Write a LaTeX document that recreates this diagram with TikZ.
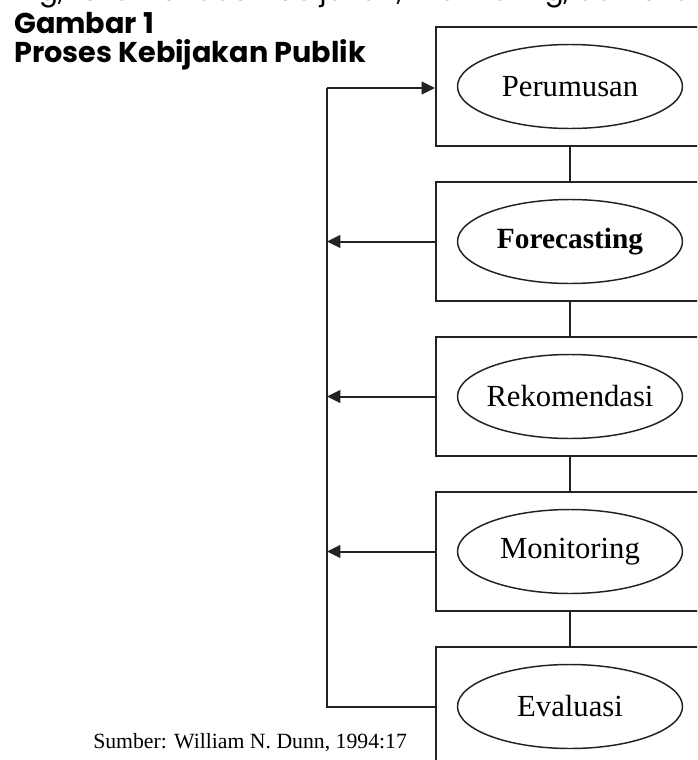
\documentclass[tikz,border=0pt]{standalone}
\usepackage{fontspec}
\setmainfont{Liberation Serif}
\setsansfont{Poppins}
\usetikzlibrary{shapes.geometric,arrows.meta}
\definecolor{ink}{HTML}{222222}
\begin{document}
\begin{tikzpicture}[x=0.75pt,y=-0.75pt,
  stagebox/.style={draw=ink,line width=1.5pt,minimum width=201pt,minimum height=89.25pt,inner sep=0pt},
  stage/.style={ellipse,draw=ink,line width=1.1pt,minimum width=168.75pt,minimum height=63pt,inner xsep=-30pt,inner ysep=0pt,font=\fontsize{23}{26}\selectfont,text=black},
  link/.style={draw=ink,line width=1.5pt},
  arr/.style={link,-{Triangle[length=10pt,width=9.5pt]}},
  titletext/.style={anchor=base west,inner sep=0pt,font=\sffamily\bfseries\fontsize{21.5}{24}\selectfont,text=black}]
\useasboundingbox (0,0) rectangle (697,760);
\clip (0,0) rectangle (697,760);
\fill[white] (0,0) rectangle (697,760);
% cut-off line of running text
\node[anchor=base west,inner sep=0pt,font=\sffamily\fontsize{21}{24}\selectfont,text=black] (frag) at (14,0.8) {ing, rekomendasi kebijakan, monitoring, dan evaluasi};
% titles
\node[titletext] (t1) at (14,33) {Gambar 1};
\node[titletext] (t2) at (14,62) {Proses Kebijakan Publik};
% boxes
\node[stagebox] (b1) at (570,86.5) {};
\node[stagebox] (b2) at (570,241.5) {};
\node[stagebox] (b3) at (570,396.5) {};
\node[stagebox] (b4) at (570,551.5) {};
\node[stagebox] (b5) at (570,706.5) {};
% ellipses
\node[stage] (e1) at (b1) {Perumusan};
\node[stage,font=\bfseries\fontsize{22}{26}\selectfont] (e2) at (b2) {Forecasting};
\node[stage] (e3) at (b3) {Rekomendasi};
\node[stage] (e4) at (b4) {Monitoring};
\node[stage] (e5) at (b5) {Evaluasi};
% vertical links
\draw[link] (b1.south) -- (b2.north);
\draw[link] (b2.south) -- (b3.north);
\draw[link] (b3.south) -- (b4.north);
\draw[link] (b4.south) -- (b5.north);
% feedback line
\coordinate (c1) at (327,88);
\coordinate (c2) at (327,241.5);
\coordinate (c3) at (327,396.5);
\coordinate (c4) at (327,551.5);
\coordinate (c5) at (327,706.5);
\draw[link,line join=miter] (b5.west) -- (c5) -- (c1);
\draw[arr] (c1) -- (c1 -| b1.west);
\draw[arr] (b2.west) -- (c2);
\draw[arr] (b3.west) -- (c3);
\draw[arr] (b4.west) -- (c4);
% source
\node[anchor=base west,inner sep=0pt,font=\fontsize{16.3}{19}\selectfont,text=black] (src) at (93,748) {Sumber: William N. Dunn, 1994:17};
\end{tikzpicture}
\end{document}
